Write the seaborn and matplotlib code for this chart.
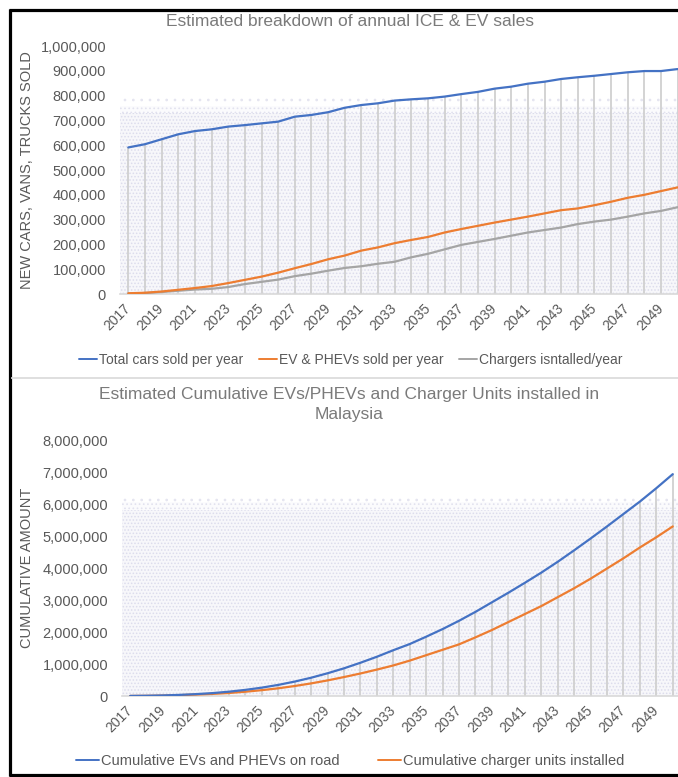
import matplotlib
matplotlib.use("Agg")
import matplotlib.pyplot as plt
import pandas as pd
import seaborn as sns
from matplotlib.patches import Rectangle
from matplotlib.lines import Line2D
from matplotlib.ticker import FuncFormatter, MultipleLocator

# ---------------------------------------------------------------- data
years = list(range(2017, 2051))

total_sold = [591000, 604000, 624000, 644000, 657000, 664000, 675000, 681000,
              688000, 695000, 715000, 722000, 733000, 751000, 762000, 769000,
              780000, 785000, 789000, 796000, 806000, 815000, 828000, 836000,
              848000, 856000, 867000, 874000, 880000, 887000, 894000, 899000,
              899000, 907000]

ev_sold = [3000, 5000, 10000, 17000, 24000, 32000, 44000, 57000, 70000, 86000,
           104000, 121000, 140000, 155000, 175000, 188000, 205000, 218000,
           230000, 248000, 262000, 275000, 288000, 300000, 312000, 325000,
           338000, 345000, 358000, 372000, 388000, 400000, 415000, 430000]

chargers_per_year = [2000, 4000, 8000, 13000, 18000, 21000, 28000, 40000, 49000,
                     58000, 72000, 82000, 94000, 105000, 112000, 122000, 130000,
                     148000, 162000, 180000, 198000, 210000, 222000, 235000,
                     248000, 258000, 268000, 282000, 292000, 300000, 312000,
                     325000, 335000, 350000]

cum_ev_on_road = [3000, 8000, 18000, 35000, 59000, 91000, 135000, 192000,
                  262000, 348000, 452000, 573000, 713000, 868000, 1043000,
                  1231000, 1436000, 1630000, 1860000, 2100000, 2360000,
                  2640000, 2940000, 3240000, 3550000, 3870000, 4210000,
                  4570000, 4940000, 5320000, 5710000, 6100000, 6520000, 6960000]

cum_chargers = [2000, 6000, 14000, 27000, 45000, 66000, 94000, 134000, 183000,
                241000, 313000, 395000, 489000, 594000, 706000, 828000, 958000,
                1110000, 1280000, 1450000, 1620000, 1840000, 2070000, 2320000,
                2570000, 2820000, 3100000, 3380000, 3680000, 4000000, 4320000,
                4660000, 4980000, 5320000]

tick_years = list(range(2017, 2050, 2))

# ---------------------------------------------------------------- style
sns.set_theme(style="white")
plt.rcParams["font.family"] = ["Liberation Sans", "DejaVu Sans"]
plt.rcParams["hatch.linewidth"] = 0.7

BLUE, ORANGE, GREY = "#4472C4", "#ED7D31", "#A5A5A5"
TXT, TITLE = "#595959", "#7a7a7a"

W, H = 678, 777
fig = plt.figure(figsize=(W / 100, H / 100), dpi=100)
fig.patch.set_edgecolor("white")
fig.patch.set_linewidth(0)


def px_axes(left, right, top, bottom):
    return fig.add_axes([left / W, 1 - bottom / H, (right - left) / W, (bottom - top) / H])


def stipple(ax, top):
    # light dotted plot-area fill that thins out towards its upper edge
    ax.add_patch(Rectangle((0, 0), 1, top - 0.06, transform=ax.transAxes, lw=0,
                           zorder=0, facecolor="#f7f7fa", edgecolor="#dcdcec",
                           hatch="....."))
    ax.add_patch(Rectangle((0, top - 0.06), 1, 0.03, transform=ax.transAxes, lw=0,
                           zorder=0, facecolor="#fbfbfd", edgecolor="#e2e2ef",
                           hatch="...."))
    ax.add_patch(Rectangle((0, top - 0.03), 1, 0.03, transform=ax.transAxes, lw=0,
                           zorder=0, facecolor="none", edgecolor="#e4e4f0",
                           hatch=".."))


def style_axes(ax, ymax, ystep):
    ax.set_xlim(2016.5, 2050.5)
    ax.set_ylim(0, ymax)
    ax.yaxis.set_major_locator(MultipleLocator(ystep))
    ax.yaxis.set_major_formatter(FuncFormatter(lambda v, p: f"{v:,.0f}"))
    ax.set_xticks(tick_years)
    ax.set_xticklabels([str(y) for y in tick_years], rotation=45, ha="right",
                       va="center", rotation_mode="anchor")
    ax.tick_params(axis="y", length=0, pad=10, labelsize=10.5, labelcolor=TXT)
    ax.tick_params(axis="x", length=0, pad=9, labelsize=10, labelcolor=TXT)
    for s in ["top", "right", "left"]:
        ax.spines[s].set_visible(False)
    ax.spines["bottom"].set_color("#d9d9d9")
    ax.spines["bottom"].set_linewidth(1.2)
    ax.set_xlabel("")
    ax.set_ylabel("")
    ax.grid(False)
    ax.set_facecolor("none")


# ---------------------------------------------------------------- top panel
ax1 = px_axes(120, 686, 46, 294)
stipple(ax1, 0.79)
ax1.vlines(years, 0, total_sold, color="#d0d0d0", lw=1.3, zorder=1)
df1 = pd.DataFrame({"year": years, "total": total_sold, "ev": ev_sold,
                    "chargers": chargers_per_year})
sns.lineplot(data=df1, x="year", y="chargers", color=GREY, lw=1.6, ax=ax1, zorder=3)
sns.lineplot(data=df1, x="year", y="ev", color=ORANGE, lw=1.6, ax=ax1, zorder=4)
sns.lineplot(data=df1, x="year", y="total", color=BLUE, lw=1.6, ax=ax1, zorder=5)
style_axes(ax1, 1_000_000, 100_000)

fig.text(349.5 / W, 1 - 22 / H, "Estimated breakdown of annual ICE & EV sales",
         ha="center", va="center", fontsize=12.5, color=TITLE)
fig.text(27 / W, 1 - 170 / H, "NEW CARS, VANS, TRUCKS SOLD", rotation=90,
         ha="center", va="center", fontsize=10.5, color=TXT)

h1 = [Line2D([], [], color=c, lw=1.4) for c in (BLUE, ORANGE, GREY)]
ax1.legend(h1, ["Total cars sold per year", "EV & PHEVs sold per year",
                "Chargers isntalled/year"],
           loc="center", bbox_to_anchor=(351 / W, 1 - 360 / H),
           bbox_transform=fig.transFigure, ncol=3, frameon=False,
           handlelength=1.3, handletextpad=0.15, columnspacing=1.1,
           fontsize=10, labelcolor=TXT)

# ---------------------------------------------------------------- bottom panel
ax2 = px_axes(122, 681, 441, 696)
stipple(ax2, 0.79)
ax2.vlines(years, 0, cum_ev_on_road, color="#d0d0d0", lw=1.3, zorder=1)
df2 = pd.DataFrame({"year": years, "cum_ev": cum_ev_on_road, "cum_ch": cum_chargers})
sns.lineplot(data=df2, x="year", y="cum_ch", color=ORANGE, lw=1.6, ax=ax2, zorder=4)
sns.lineplot(data=df2, x="year", y="cum_ev", color=BLUE, lw=1.6, ax=ax2, zorder=5)
style_axes(ax2, 8_000_000, 1_000_000)

fig.text(349.5 / W, 1 - 395 / H,
         "Estimated Cumulative EVs/PHEVs and Charger Units installed in",
         ha="center", va="center", fontsize=12.5, color=TITLE)
fig.text(349.5 / W, 1 - 415 / H, "Malaysia",
         ha="center", va="center", fontsize=12.5, color=TITLE)
fig.text(27 / W, 1 - 568 / H, "CUMULATIVE AMOUNT", rotation=90,
         ha="center", va="center", fontsize=10.5, color=TXT)

h2 = [Line2D([], [], color=c, lw=1.4) for c in (BLUE, ORANGE)]
ax2.legend(h2, ["Cumulative EVs and PHEVs on road", "Cumulative charger units installed"],
           loc="center", bbox_to_anchor=(350 / W, 1 - 761 / H),
           bbox_transform=fig.transFigure, ncol=2, frameon=False,
           handlelength=1.6, handletextpad=0.15, columnspacing=2.6,
           fontsize=10.5, labelcolor=TXT)

# ---------------------------------------------------------------- frame and divider
def fig_line(x0, y0, x1, y1, **kw):
    fig.add_artist(Line2D([x0 / W, x1 / W], [1 - y0 / H, 1 - y1 / H],
                          transform=fig.transFigure, solid_capstyle="butt", **kw))

fig_line(8.5, 9.5, W + 5, 9.5, color="black", lw=2.3)
fig_line(9.5, 8.5, 9.5, 776, color="black", lw=2.3)
fig_line(8.5, 775, W + 5, 775, color="black", lw=2.3)
fig_line(11, 378, W + 5, 378, color="#d9d9d9", lw=1.2)

fig.savefig("out.png", dpi=100, facecolor="white", edgecolor="white")
